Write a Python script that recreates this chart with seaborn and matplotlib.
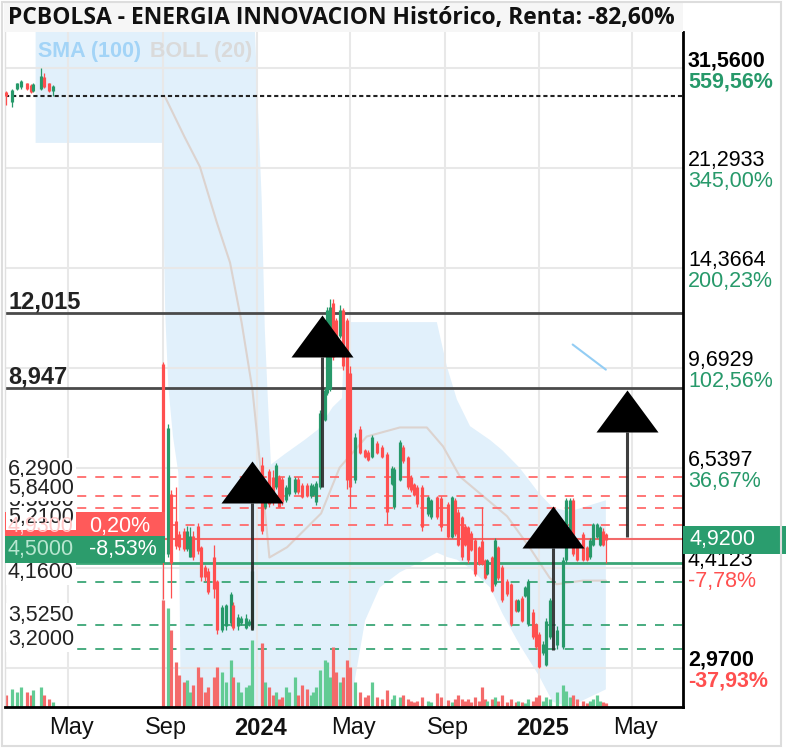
import matplotlib
matplotlib.use("Agg")
import matplotlib.pyplot as plt
import matplotlib.dates as mdates
import matplotlib.transforms as mtransforms
from matplotlib.patches import Rectangle
from matplotlib.ticker import NullFormatter, NullLocator
import pandas as pd
import seaborn as sns

# ---------------- datos ----------------
candle_dates = [
    "2023-02-10", "2023-02-17", "2023-02-24", "2023-03-01", "2023-03-09", "2023-03-14",
    "2023-03-17", "2023-03-27", "2023-03-31", "2023-04-06", "2023-04-12",
    "2023-09-01", "2023-09-07", "2023-09-12", "2023-09-18", "2023-09-22", "2023-09-28",
    "2023-10-02", "2023-10-06", "2023-10-10", "2023-10-16", "2023-10-20", "2023-10-25",
    "2023-10-30", "2023-11-06", "2023-11-10", "2023-11-17", "2023-11-22", "2023-11-28",
    "2023-12-01", "2023-12-07", "2023-12-11", "2023-12-18", "2023-12-21", "2023-12-26",
    "2024-01-08", "2024-01-11", "2024-01-17", "2024-01-22", "2024-01-26", "2024-01-30",
    "2024-02-02", "2024-02-08", "2024-02-12", "2024-02-19", "2024-02-23", "2024-02-28",
    "2024-03-06", "2024-03-11", "2024-03-14", "2024-03-18", "2024-03-22", "2024-03-29",
    "2024-04-01", "2024-04-04", "2024-04-08", "2024-04-12", "2024-04-17", "2024-04-22",
    "2024-04-26", "2024-04-30", "2024-05-07", "2024-05-13", "2024-05-20", "2024-05-24",
    "2024-05-29", "2024-06-05", "2024-06-11", "2024-06-18", "2024-06-24", "2024-06-27",
    "2024-07-04", "2024-07-08", "2024-07-15", "2024-07-19", "2024-07-23", "2024-07-26",
    "2024-08-02", "2024-08-09", "2024-08-14", "2024-08-21", "2024-08-27", "2024-09-04",
    "2024-09-09", "2024-09-13", "2024-09-17", "2024-09-23", "2024-09-26", "2024-09-30",
    "2024-10-04", "2024-10-09", "2024-10-14", "2024-10-18", "2024-10-22", "2024-10-25",
    "2024-11-01", "2024-11-05", "2024-11-08", "2024-11-14", "2024-11-20", "2024-11-25",
    "2024-12-02", "2024-12-04", "2024-12-09", "2024-12-13", "2024-12-17", "2024-12-23",
    "2024-12-27", "2024-12-31", "2025-01-06", "2025-01-10", "2025-01-14", "2025-01-24",
    "2025-01-31", "2025-02-05", "2025-02-10", "2025-02-13", "2025-02-18", "2025-02-26",
    "2025-03-03", "2025-03-07", "2025-03-11", "2025-03-17", "2025-03-20", "2025-03-24",
    "2025-03-28",
]
opens = [
    28.7, 27.6, 29.0, 29.3, 29.7, 29.5, 28.8, 29.0, 30.5, 29.7, 28.8,
    9.85, 4.65, 5.9, 5.3, 5.03, 5.1, 4.75, 4.6, 5.0, 5.2, 4.78, 4.42,
    4.36, 4.6, 4.19, 3.45, 3.5, 3.55, 3.8, 3.5, 3.55, 3.48, 3.52, 3.47,
    6.6, 5.6, 6.45, 6.3, 6.05, 6.3, 6.25, 5.75, 5.9, 5.95, 6.25, 6.1,
    6.1, 5.85, 5.88, 5.7, 6.05, 7.9, 8.79, 8.9, 12.52, 11.7, 11.0, 12.18,
    11.71, 9.5, 6.22, 7.6, 7.0, 6.95, 6.81, 7.2, 7.1, 6.9, 6.12, 5.6,
    6.22, 7.1, 6.81, 6.3, 6.12, 6.05, 6.05, 5.44, 5.38, 5.82, 5.8, 5.66,
    4.97, 5.75, 5.5, 5.38, 5.2, 5.17, 5.05, 4.91, 4.78, 4.9, 4.54, 4.3,
    4.59, 4.13, 4.78, 4.42, 4.19, 4.13, 3.88, 3.72, 3.92, 3.95, 3.53, 3.7,
    3.53, 3.39, 3.15, 3.01, 3.35, 3.25, 3.22, 4.54, 5.03, 5.75, 4.91, 5.03,
    4.78, 4.6, 4.83, 4.97, 4.83, 5.1, 5.03,
]
highs = [
    28.8, 29.0, 29.8, 30.1, 29.8, 29.6, 29.8, 31.56, 31.0, 29.8, 29.5,
    9.93, 7.75, 5.98, 6.05, 5.1, 5.15, 5.2, 5.17, 5.1, 5.25, 4.8, 4.45,
    4.4, 4.83, 4.2, 3.8, 3.82, 4.0, 3.85, 3.68, 3.65, 3.67, 3.6, 4.45,
    6.81, 5.8, 6.5, 6.47, 6.65, 6.35, 6.3, 6.1, 6.35, 6.3, 6.3, 6.15,
    6.15, 6.15, 6.12, 6.2, 8.2, 8.95, 12.3, 12.7, 12.7, 11.8, 12.4, 12.25,
    11.8, 9.74, 7.5, 7.7, 7.05, 7.0, 7.45, 7.25, 7.15, 6.95, 6.58, 6.55,
    7.3, 7.15, 6.85, 6.35, 6.15, 6.1, 6.1, 5.85, 5.78, 5.85, 5.85, 5.7,
    5.85, 5.8, 5.55, 5.4, 5.23, 5.2, 5.1, 4.95, 4.8, 5.59, 4.56, 4.56,
    4.62, 4.95, 4.8, 4.45, 4.22, 4.15, 3.9, 3.9, 3.95, 4.1, 4.22, 3.75,
    3.55, 3.42, 3.3, 3.62, 3.92, 3.5, 4.6, 5.8, 5.8, 5.8, 4.95, 5.08,
    4.8, 4.95, 5.25, 5.25, 5.2, 5.15, 5.05,
]
lows = [
    27.3, 27.1, 28.9, 29.1, 28.9, 28.6, 28.7, 28.9, 29.2, 28.7, 28.3,
    3.9, 4.6, 3.92, 4.75, 4.72, 4.7, 4.7, 4.59, 4.54, 4.65, 4.19, 4.19,
    3.97, 3.92, 3.39, 3.42, 3.45, 3.5, 3.45, 3.45, 3.52, 3.46, 3.5, 3.45,
    5.03, 5.55, 5.6, 5.65, 6.0, 5.59, 5.65, 5.72, 5.85, 5.9, 5.9, 5.8,
    5.83, 5.8, 5.85, 5.65, 6.0, 7.85, 8.7, 8.85, 10.0, 10.3, 10.9, 9.6,
    6.0, 5.6, 6.15, 6.9, 6.78, 6.7, 6.78, 6.9, 6.78, 5.23, 6.1, 5.55,
    6.2, 6.65, 6.0, 5.95, 5.85, 5.6, 5.1, 5.4, 5.35, 5.35, 5.1, 4.95,
    4.95, 5.0, 4.8, 4.55, 4.8, 4.5, 4.7, 4.27, 4.45, 4.45, 4.22, 4.28,
    4.0, 4.1, 4.2, 3.85, 3.95, 3.5, 3.7, 3.7, 3.56, 3.93, 3.5, 3.33,
    3.2, 2.97, 3.12, 2.99, 3.33, 3.2, 3.2, 4.5, 5.0, 4.62, 4.52, 4.52,
    4.52, 4.57, 4.8, 4.95, 4.8, 4.8, 4.5,
]
closes = [
    28.28, 28.9, 29.7, 30.0, 29.0, 28.7, 29.6, 30.6, 29.3, 28.8, 29.4,
    4.65, 7.65, 4.5, 4.8, 4.78, 4.75, 5.1, 5.0, 4.6, 4.7, 4.25, 4.25,
    4.0, 4.05, 3.45, 3.77, 3.8, 3.97, 3.47, 3.63, 3.62, 3.62, 3.58, 4.36,
    5.1, 5.75, 5.66, 5.7, 6.62, 5.6, 5.7, 6.05, 6.3, 6.25, 5.95, 5.82,
    5.85, 6.1, 6.08, 6.15, 8.12, 8.89, 12.18, 12.3, 10.13, 10.4, 12.18, 9.74,
    6.22, 6.05, 7.39, 6.94, 6.81, 6.75, 7.39, 6.94, 6.81, 5.5, 6.54, 6.5,
    7.22, 6.7, 6.05, 5.98, 5.88, 5.66, 5.17, 5.82, 5.75, 5.38, 5.17, 4.97,
    5.82, 5.03, 4.83, 4.59, 4.83, 4.54, 4.72, 4.3, 4.47, 4.47, 4.24, 4.54,
    4.03, 4.91, 4.24, 3.88, 3.97, 3.53, 3.72, 3.88, 3.58, 4.08, 4.19, 3.35,
    3.22, 2.98, 3.27, 3.58, 3.88, 3.45, 4.54, 5.75, 5.75, 4.65, 4.54, 4.54,
    4.54, 4.91, 5.23, 5.23, 5.17, 4.83, 4.92,
]
volumes = [
    12, 18, 15, 20, 15, 12, 17, 20, 12, 8, 5,
    107, 99, 77, 45, 32, 25, 27, 15, 22, 40, 30, 15,
    20, 30, 40, 35, 25, 47, 30, 25, 15, 20, 22, 67,
    64, 25, 20, 12, 15, 8, 10, 20, 15, 30, 12, 22,
    18, 12, 15, 20, 37, 47, 45, 30, 60, 35, 25, 30,
    47, 40, 25, 15, 10, 12, 25, 10, 8, 17, 8, 12,
    10, 12, 8, 6, 5, 6, 10, 6, 5, 14, 10, 7,
    5, 8, 12, 8, 6, 8, 5, 10, 6, 20, 8, 6,
    8, 10, 6, 12, 5, 8, 5, 6, 5, 4, 8, 6,
    10, 12, 6, 10, 8, 15, 22, 16, 10, 12, 8, 6,
    4, 6, 8, 12, 6, 5, 4,
]

# Bandas de Bollinger (20) y su media
band_dates = [
    "2023-03-20", "2023-08-31", "2023-09-04", "2023-09-08", "2023-09-14", "2023-09-21",
    "2023-09-25", "2023-12-28", "2024-01-07", "2024-01-11", "2024-01-15", "2024-01-19",
    "2024-02-06", "2024-03-03", "2024-03-20", "2024-04-08", "2024-04-20", "2024-04-24",
    "2024-04-30", "2024-05-07", "2024-05-20", "2024-06-08", "2024-07-04", "2024-07-29",
    "2024-08-21", "2024-09-03", "2024-09-16", "2024-10-03", "2024-10-29", "2024-11-14",
    "2024-12-06", "2025-01-01", "2025-01-18", "2025-02-09", "2025-03-28",
]
band_upper = [
    40, 40, 40, 40, 40, 40, 40, 40, 18.8, 11.3, 8.55, 6.62,
    6.9, 7.3, 7.6, 8.3, 8.6, 11.6, 11.6, 11.6, 11.6, 11.6, 11.6, 11.6,
    11.6, 9.74, 8.55, 7.7, 7.29, 7.0, 6.54, 5.9, 5.59, 5.5, 5.75,
]
band_lower = [
    23.5, 23.5, 12.0, 9.0, 7.4, 6.4, 2.0, 2.0, 2.0, 2.0, 2.0, 2.0,
    2.0, 2.0, 2.0, 2.0, 2.0, 2.0, 2.0, 2.85, 3.58, 4.08, 4.33, 4.5,
    4.68, 4.6, 4.55, 4.4, 4.08, 3.68, 3.26, 2.87, 2.6, 2.55, 2.73,
]
boll_mid_dates = [
    "2023-09-03", "2023-09-29", "2023-10-19", "2023-11-10", "2023-11-27", "2023-12-12",
    "2023-12-26", "2024-01-04", "2024-01-12", "2024-01-17", "2024-02-09", "2024-03-24",
    "2024-04-17", "2024-05-22", "2024-07-04", "2024-08-08", "2024-08-29", "2024-09-20",
    "2024-11-20", "2024-12-19", "2025-01-14", "2025-01-23", "2025-02-26", "2025-03-28",
]
boll_mid = [
    28.3, 24.06, 21.38, 17.15, 14.66, 11.58, 8.89, 6.81, 5.38, 4.59, 4.78, 5.46,
    6.54, 7.39, 7.66, 7.66, 7.11, 6.31, 5.40, 4.78, 4.24, 4.13, 4.19, 4.19,
]
sma_dates = ["2025-02-13", "2025-03-28"]
sma_values = [10.62, 9.62]

# Flechas (fecha, base del triangulo, final del tallo)
arrow_dates = ["2023-12-26", "2024-03-25", "2025-01-18", "2025-04-25"]
arrow_base = [5.69, 10.11, 4.77, 7.52]
arrow_stem_low = [3.45, 6.06, 3.19, 4.98]

# Niveles horizontales
start_price = 28.28
current_price = 4.92
bold_levels = [12.015, 8.947]
bold_labels = ["12,015", "8,947"]
red_dash_levels = [5.58, 6.29, 5.84, 5.21]
red_dash_labels = ["5,5800", "6,2900", "5,8400", "5,2100"]
green_dash_levels = [4.16, 3.525, 3.20]
green_dash_labels = ["4,1600", "3,5250", "3,2000"]
box_levels = [4.93, 4.50]
box_labels = ["4,9300", "4,5000"]
box_pcts = ["0,20%", "-8,53%"]

price_ticks = [31.56, 21.2933, 14.3664, 9.6929, 6.5397, 4.4123, 2.97]
price_tick_labels = ["31,5600", "21,2933", "14,3664", "9,6929", "6,5397", "4,4123", "2,9700"]
pct_tick_labels = ["559,56%", "345,00%", "200,23%", "102,56%", "36,67%", "-7,78%", "-37,93%"]

month_ticks = ["2023-05-01", "2023-09-01", "2024-01-01", "2024-05-01", "2024-09-01",
               "2025-01-01", "2025-05-01"]
month_labels = ["May", "Sep", "2024", "May", "Sep", "2025", "May"]

title = "PCBOLSA - ENERGIA INNOVACION Histórico, Renta: -82,60%"

# ---------------- estilo ----------------
GREEN = "#27996a"
RED = "#ff4f4f"
VOL_GREEN = "#62cb94"
VOL_RED = "#f46a6a"
BAND = "#e1f0fb"
GRID = "#e8e8e8"

sns.set_style("white")
plt.rcParams["font.family"] = ["Liberation Sans", "DejaVu Sans"]

W, H = 786, 748
YMIN, YMAX = 2.547, 36.37
AX_H = 675.0


def to_num(dates):
    return mdates.date2num(pd.to_datetime(dates))


def fig_rect(x0, y0, x1, y1):
    return [x0 / W, 1 - y1 / H, (x1 - x0) / W, (y1 - y0) / H]


def up(price, px):
    # precio desplazado px pixeles hacia arriba en la escala log
    return price * (YMAX / YMIN) ** (px / AX_H)


fig = plt.figure(figsize=(W / 100, H / 100), dpi=100)
fig.patches.append(Rectangle((4 / W, 1 - 32 / H), 679 / W, 29 / H, transform=fig.transFigure,
                             facecolor="#f6f6f6", edgecolor="none", zorder=0))
fig.patches.append(Rectangle((2 / W, 2 / H), 779 / W, 744 / H, transform=fig.transFigure,
                             fill=False, edgecolor="#dddddd", lw=1.5, zorder=0))
fig.text(8 / W, 1 - 18 / H, title, fontsize=16.5, fontweight="bold", va="center",
         family=["Open Sans", "DejaVu Sans"], color="#111111")

ax = fig.add_axes(fig_rect(5, 32, 683, 707))
ax.set_yscale("log")
ax.set_ylim(YMIN, YMAX)
ax.set_xlim(to_num(["2023-02-08 08:00"])[0], to_num(["2025-07-06"])[0])

# banda de Bollinger
bx = to_num(band_dates)
ax.fill_between(bx, band_lower, band_upper, color=BAND, lw=0, zorder=0.2)

# rejilla y ejes
ax.set_yticks(price_ticks)
ax.yaxis.set_major_formatter(NullFormatter())
ax.yaxis.set_minor_locator(NullLocator())
ax.yaxis.set_minor_formatter(NullFormatter())
ax.set_xticks(to_num(month_ticks))
ax.set_xticklabels(month_labels)
ax.tick_params(length=0)
ax.tick_params(axis="x", pad=7, colors="#111111")
shift = mtransforms.ScaledTranslation(3 / 100, 0, fig.dpi_scale_trans)
for lab in ax.get_xticklabels():
    lab.set_fontsize(17)
    lab.set_transform(lab.get_transform() + shift)
    if lab.get_text().isdigit():
        lab.set_fontweight("bold")
ax.grid(True, color=GRID, lw=1.5)
ax.set_axisbelow(True)

ax.spines["top"].set_visible(False)
ax.spines["left"].set_color("#e0e0e0")
ax.spines["left"].set_linewidth(1.0)
ax.spines["right"].set_color("black")
ax.spines["right"].set_linewidth(2)
ax.spines["bottom"].set_color("black")
ax.spines["bottom"].set_linewidth(2)

# medias
sns.lineplot(x=to_num(boll_mid_dates), y=boll_mid, ax=ax, color="#dcd3cf", lw=1.5,
             sort=False, estimator=None, legend=False, zorder=0.8)
sns.lineplot(x=to_num(sma_dates), y=sma_values, ax=ax, color="#93cdf4", lw=1.5,
             sort=False, estimator=None, legend=False, zorder=0.8)

# volumen (fraccion de la altura del eje)
cx = to_num(candle_dates)
vol_top = max(volumes) * 6.3
vol_cols = [VOL_GREEN if c >= o else VOL_RED for o, c in zip(opens, closes)]
ax.vlines(cx, 0, [v / vol_top for v in volumes], colors=vol_cols, lw=2.3,
          transform=ax.get_xaxis_transform(), zorder=1.5)

# lineas de nivel
ax.axhline(start_price, color="#222222", lw=1.5, ls=(0, (2, 1.4)), zorder=1.2)
for lv in bold_levels:
    ax.axhline(lv, color="#4a4a4a", lw=2, zorder=1.2)
for lv in red_dash_levels:
    ax.axhline(lv, color="#ff6b6b", lw=1.3, ls=(0, (5, 5)), zorder=1.2)
for lv in green_dash_levels:
    ax.axhline(lv, color="#3aa676", lw=1.3, ls=(0, (5, 5)), zorder=1.2)
ax.axhline(box_levels[0], color="#f26a6a", lw=1.5, zorder=1.2)
ax.axhline(box_levels[1], color="#3aa676", lw=2, zorder=1.2)

# velas
cols = [GREEN if c >= o else RED for o, c in zip(opens, closes)]
ax.vlines(cx, lows, highs, colors=cols, lw=0.9, zorder=3)
ax.vlines(cx, [min(o, c) for o, c in zip(opens, closes)],
          [max(o, c) for o, c in zip(opens, closes)], colors=cols, lw=2.3, zorder=3)

# flechas
arr_x = to_num(arrow_dates)
ax.vlines(arr_x, arrow_stem_low, arrow_base, colors="#2a2a2a", lw=2.2, alpha=0.9, zorder=4)
tri = [(-1, 0), (1, 0), (0, 1.355), (-1, 0)]
ax.plot(arr_x, arrow_base, ls="none", marker=tri, markersize=60.5, color="black",
        markeredgewidth=0, zorder=5)

# etiquetas de niveles a la izquierda
blend = mtransforms.blended_transform_factory(ax.transAxes, ax.transData)


def left_label(price, text, dy, boxed=True, **kw):
    tr = mtransforms.offset_copy(blend, fig=fig, x=3, y=dy, units="dots")
    bb = dict(facecolor="white", edgecolor="none", pad=1.2) if boxed else None
    ax.text(0, price, text, transform=tr, va="baseline", ha="left", zorder=6, bbox=bb, **kw)


for lv, lab in zip(bold_levels, bold_labels):
    left_label(lv, lab, 5, boxed=False, fontsize=17, fontweight="bold", color="#222222")
for lv, lab in zip(red_dash_levels, red_dash_labels):
    left_label(lv, lab, 2, fontsize=15.5, color="#222222")
for lv, lab in zip(green_dash_levels, green_dash_labels):
    left_label(lv, lab, 4, fontsize=15.5, color="#222222")

# cajas de soporte / resistencia mas cercanas
box_fc = ["#ff5a5a", "#2c9c6c"]
box_num_c = ["#ffc9c9", "#b8e6d0"]
for i, (lv, lab, pct) in enumerate(zip(box_levels, box_labels, box_pcts)):
    ax.add_patch(Rectangle((0, lv), 160 / 678, up(lv, 27) - lv, transform=blend,
                           facecolor=box_fc[i], edgecolor="none", zorder=6 + i))
    mid = up(lv, 13)
    tr = mtransforms.offset_copy(blend, fig=fig, x=3, y=0, units="dots")
    ax.text(0, mid, lab, transform=tr, va="center", fontsize=15.5, color=box_num_c[i],
            zorder=6.5 + i)
    tr = mtransforms.offset_copy(blend, fig=fig, x=84, y=0, units="dots")
    ax.text(0, mid, pct, transform=tr, va="center", fontsize=15.5, color="white",
            zorder=6.5 + i)
# la etiqueta 5,2100 tapa parte de la caja roja
left_label(red_dash_levels[3], red_dash_labels[3], 2, fontsize=15.5, color="#222222")

# eje derecho
for k, (pv, num, pct) in enumerate(zip(price_ticks, price_tick_labels, pct_tick_labels)):
    bold = "bold" if k in (0, len(price_ticks) - 1) else "normal"
    pc = GREEN if not pct.startswith("-") else RED
    tr = mtransforms.offset_copy(blend, fig=fig, x=5, y=2, units="dots")
    ax.text(1, pv, num, transform=tr, va="baseline", ha="left", fontsize=15.5,
            fontweight=bold, color="black", clip_on=False, zorder=7)
    tr = mtransforms.offset_copy(blend, fig=fig, x=5, y=-3, units="dots")
    ax.text(1, pv, pct, transform=tr, va="top", ha="left", fontsize=15.5,
            fontweight=bold, color=pc, clip_on=False, zorder=7)

# precio actual
ax.add_patch(Rectangle((1, up(current_price, -14)), 110 / 678,
                       up(current_price, 14) - up(current_price, -14), transform=blend,
                       facecolor="#2a9d6e", edgecolor="none", clip_on=False, zorder=8))
tr = mtransforms.offset_copy(blend, fig=fig, x=6, y=0, units="dots")
ax.text(1, current_price, "4,9200", transform=tr, va="center", ha="left", fontsize=15.5,
        color="white", clip_on=False, zorder=9)

# leyenda de indicadores
fig.text(38 / W, 1 - 52 / H, "SMA (100)", fontsize=15.5, fontweight="bold",
         color="#a3d4f7", va="center")
fig.text(150 / W, 1 - 52 / H, "BOLL (20)", fontsize=15.5, fontweight="bold",
         color="#dadada", va="center")

ax.set_xlabel("")
ax.set_ylabel("")
fig.savefig("out.png", dpi=100)
